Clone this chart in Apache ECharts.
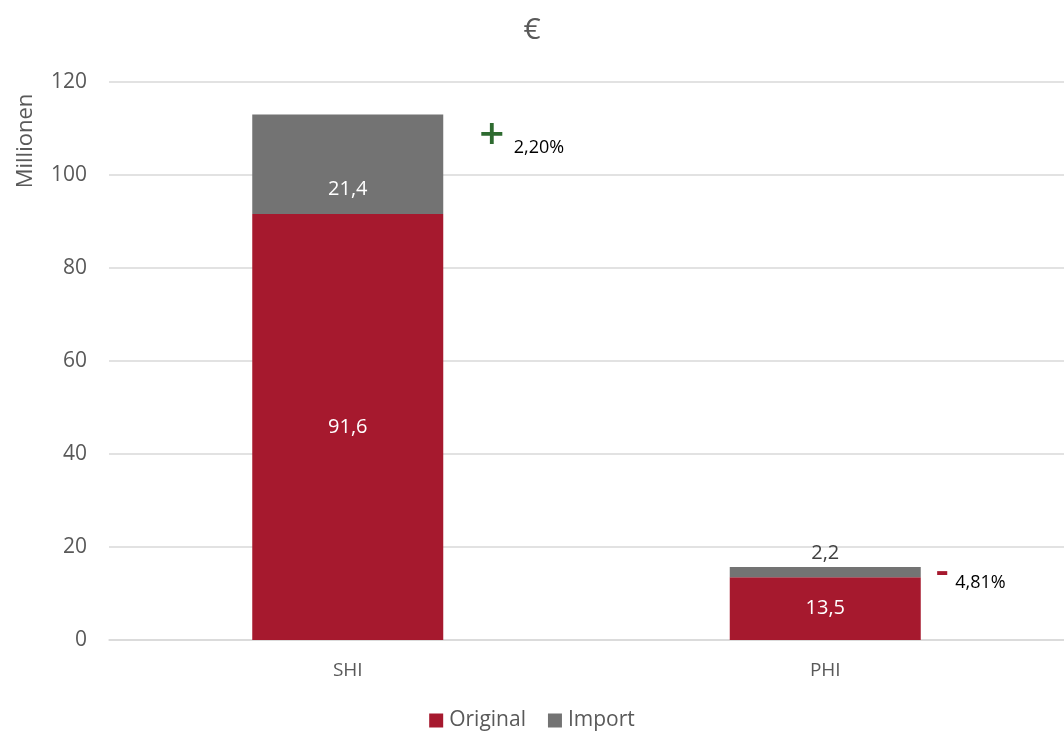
<!DOCTYPE html>
<html>
<head>
<meta charset="utf-8">
<script src="https://cdn.jsdelivr.net/npm/echarts@6/dist/echarts.min.js"></script>
<style>
  html, body { margin: 0; padding: 0; background: #fff; }
  #main { width: 1064px; height: 737px; }
</style>
</head>
<body>
<div id="main"></div>
<script>
// data
var categories = ['SHI', 'PHI'];
var originalValues = [91.6, 13.5];
var importValues = [21.4, 2.2];
var changeSigns = ['+', '-'];
var changeLabels = ['2,20%', '4,81%'];

var fontFam = '"Open Sans", "Liberation Sans", sans-serif';
var txtColor = '#595959';
var fmt = function (p) { return String(p.value).replace('.', ','); };

var chartDom = document.getElementById('main');
var myChart = echarts.init(chartDom);
var option = {
  animation: false,
  title: {
    text: '€',
    left: 'center',
    top: 10,
    textStyle: { color: txtColor, fontSize: 30, fontWeight: 'normal', fontFamily: fontFam }
  },
  legend: {
    bottom: 1,
    left: 'center',
    itemWidth: 14,
    itemHeight: 14,
    itemGap: 22,
    icon: 'rect',
    textStyle: { color: txtColor, fontSize: 21, fontFamily: fontFam, padding: [0, 0, 0, 1] },
    data: ['Original', 'Import']
  },
  grid: {
    left: 109,
    top: 82,
    width: 960,
    bottom: 97
  },
  xAxis: {
    type: 'category',
    data: categories,
    axisTick: { show: false },
    axisLine: { lineStyle: { color: '#d9d9d9', width: 1.5 } },
    axisLabel: { color: txtColor, fontSize: 19, margin: 21, fontFamily: fontFam }
  },
  yAxis: {
    type: 'value',
    min: 0,
    max: 120,
    interval: 20,
    axisLine: { show: false },
    axisTick: { show: false },
    axisLabel: { color: txtColor, fontSize: 21, margin: 22, fontFamily: fontFam },
    splitLine: { lineStyle: { color: '#d9d9d9', width: 1.5 } }
  },
  series: [{
    name: 'Original',
    type: 'bar',
    stack: 'total',
    barWidth: '40%',
    data: originalValues,
    itemStyle: { color: '#A6192E' },
    label: { show: true, position: 'inside', color: '#fff', fontSize: 20, fontFamily: fontFam, formatter: fmt }
  }, {
    name: 'Import',
    type: 'bar',
    stack: 'total',
    barWidth: '40%',
    data: importValues,
    itemStyle: { color: '#737373' },
    label: {
      show: true, position: 'insideBottom', distance: 15, color: '#fff', fontSize: 20, fontFamily: fontFam, formatter: fmt
    }
  }]
};
// small import segment: label above the bar in dark text
option.series[1].data = importValues.map(function (v) {
  if (v < 5) {
    return { value: v, label: { position: 'top', color: '#404040', distance: 4 } };
  }
  return v;
});
myChart.setOption(option);

// annotations next to the bars, anchored at the top-right corner of each stack
var signStyles = [
  { color: '#2E6B30', font: '600 44px', dx: 48, dy: 22 },
  { color: '#A6192E', font: '600 40px', dx: 21, dy: 6 }
];
var labelOffsets = [{ dx: 70, dy: 33 }, { dx: 34, dy: 16 }];
var graphics = [{
  type: 'text',
  x: 26,
  y: 141,
  rotation: Math.PI / 2,
  style: { text: 'Millionen', fill: txtColor, font: '22px ' + fontFam, textAlign: 'center', textVerticalAlign: 'middle' }
}];
categories.forEach(function (c, i) {
  var total = originalValues[i] + importValues[i];
  var pt = myChart.convertToPixel({ seriesIndex: 0 }, [i, total]);
  var rx = pt[0] + 96;
  graphics.push({
    type: 'text',
    x: rx + signStyles[i].dx,
    y: pt[1] + signStyles[i].dy,
    style: {
      text: changeSigns[i], fill: signStyles[i].color,
      font: signStyles[i].font + ' ' + fontFam,
      textAlign: 'center', textVerticalAlign: 'middle'
    }
  });
  graphics.push({
    type: 'text',
    x: rx + labelOffsets[i].dx,
    y: pt[1] + labelOffsets[i].dy,
    style: {
      text: changeLabels[i], fill: '#000',
      font: '18px ' + fontFam,
      textAlign: 'left', textVerticalAlign: 'middle'
    }
  });
});
myChart.setOption({ graphic: graphics });
</script>
</body>
</html>
